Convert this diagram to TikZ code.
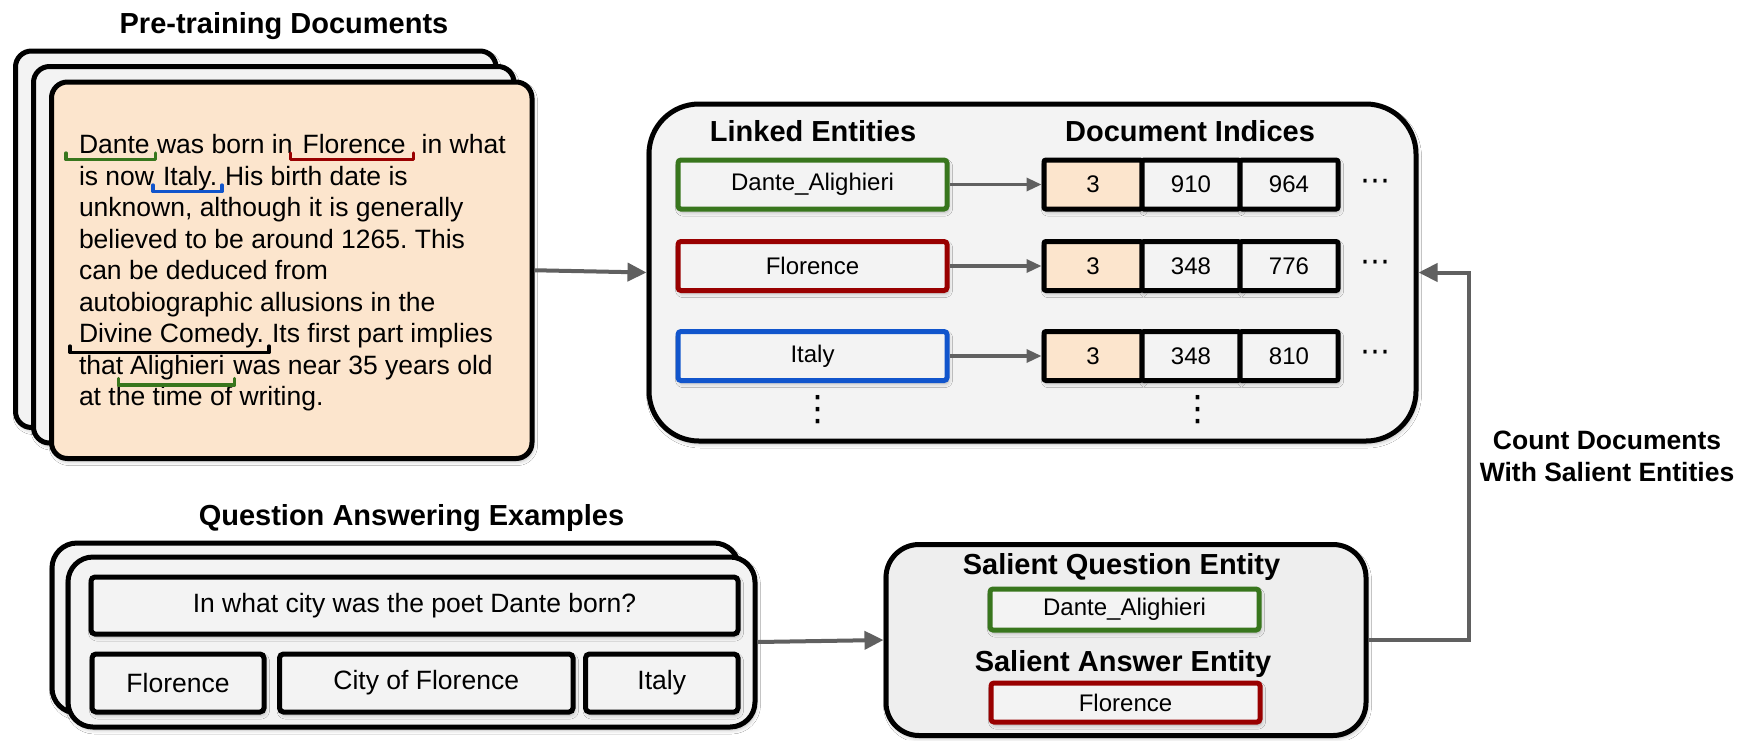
\documentclass[tikz,border=0pt]{standalone}
\usepackage{fontspec}
\setmainfont{Liberation Sans}
\newfontfamily\dotsfont{DejaVu Sans}
\usetikzlibrary{arrows.meta,calc,shadows.blur}
\frenchspacing

\definecolor{egreen}{HTML}{38761D}
\definecolor{ered}{HTML}{990000}
\definecolor{eblue}{HTML}{1155CC}
\definecolor{peach}{HTML}{FCE5CD}
\definecolor{panel}{HTML}{F3F3F3}
\definecolor{panelb}{HTML}{EEEEEE}
\definecolor{linkgray}{HTML}{606060}

\newcommand\docfont{\fontsize{26.5}{31.5}\selectfont}
\newcommand\headfont{\bfseries\fontsize{29}{34}\selectfont}
\newcommand\labfont{\fontsize{24}{28}\selectfont}
\newcommand\notefont{\bfseries\fontsize{26.5}{31.7}\selectfont}
\newcommand\ellfont{\dotsfont\fontsize{30}{32}\selectfont}
\newcommand\vellfont{\dotsfont\fontsize{35}{37}\selectfont}

% underline bracket below a word node: node, colour, left pad, right pad, drop
\newcommand\markword[5]{%
  \draw[brk,#2] ($(#1.base west)+(-#3,#5-6.5)$) -- ($(#1.base west)+(-#3,#5)$)
    -- ($(#1.base east)+(#4,#5)$) -- ($(#1.base east)+(#4,#5-6.5)$);}

\tikzset{
  sh/.style={blur shadow={shadow xshift=1.5pt, shadow yshift=-3pt,
      shadow blur radius=4pt, shadow opacity=28}},
  blackframe/.style={draw=black, line width=5pt, sh},
  docsheet/.style={blackframe, rounded corners=16pt, minimum width=480.5pt,
      minimum height=376.5pt, inner sep=0pt},
  entity/.style={draw=#1, line width=5pt, fill=panel, rounded corners=3pt,
      minimum width=269pt, inner sep=0pt, font=\labfont, sh},
  cell/.style={blackframe, fill=panel, rounded corners=2pt, minimum width=98pt,
      minimum height=49pt, inner sep=0pt, font=\labfont},
  qabox/.style={blackframe, fill=panel, rounded corners=4pt, inner sep=0pt,
      font=\docfont},
  flow/.style={draw=linkgray, line width=3.3pt, -{Triangle[length=15pt,width=13pt]}},
  bigflow/.style={draw=linkgray, line width=4pt, -{Triangle[length=19pt,width=18pt]}},
  word/.style={anchor=base west, inner sep=0pt, outer sep=0pt, font=\docfont},
  head/.style={anchor=base, inner sep=0pt, font=\headfont},
  brk/.style={line width=3.3pt, line join=round, line cap=round},
  ell/.style={inner sep=0pt, font=\ellfont},
  vell/.style={inner sep=0pt, font=\vellfont},
}

\begin{document}
\begin{tikzpicture}[x=1pt,y=-1pt]
\useasboundingbox (0,0) rectangle (1739,740);
\fill[white] (0,0) rectangle (1739,740);

% ---------- pre-training documents ----------
\node[head] (doctitle) at (284,33) {Pre-training Documents};
\node[docsheet, fill=panel] (sheet1) at (255.75,239.25) {};
\node[docsheet, fill=panel] (sheet2) at (273.75,254.75) {};
\node[docsheet, fill=peach] (sheet3) at (291.75,270.25) {};

\node[word] (l1a) at (79,153.5) {Dante};
\node[word] (l1b) at ($(l1a.base east)+(7.4,0)$) {was born in};
\node[word] (l1c) at ($(l1b.base east)+(10,0)$) {Florence};
\node[word] (l1d) at ($(l1c.base east)+(16,0)$) {in what};
\node[word] (l2a) at (79,185) {is now};
\node[word] (l2b) at ($(l2a.base east)+(9,0)$) {Italy.};
\node[word] (l2c) at ($(l2b.base east)+(8,0)$) {His birth date is};
\node[word] (l3) at (79,216.5) {unknown, although it is generally};
\node[word] (l4) at (79,248) {believed to be around 1265. This};
\node[word] (l5) at (79,279.5) {can be deduced from};
\node[word] (l6) at (79,311) {autobiographic allusions in the};
\node[word] (l7a) at (79,342.5) {Divine Comedy.};
\node[word] (l7b) at ($(l7a.base east)+(8,0)$) {Its first part implies};
\node[word] (l8a) at (79,374) {that};
\node[word] (l8b) at ($(l8a.base east)+(7,0)$) {Alighieri};
\node[word] (l8c) at ($(l8b.base east)+(9,0)$) {was near 35 years old};
\node[word] (l9) at (79,405.5) {at the time of writing.};

\markword{l1a}{egreen}{13}{6}{6}
\markword{l1c}{ered}{12}{8}{6}
\markword{l2b}{eblue}{10}{5}{6.5}
\markword{l7a}{black}{9}{5}{10}
\markword{l8b}{egreen}{12}{10}{11}

% ---------- entity index ----------
\node[blackframe, fill=panel, rounded corners=50pt, minimum width=767pt,
      minimum height=337pt] (index) at (1032.5,272.5) {};
\node[head] (enttitle) at (813,141.5) {Linked Entities};
\node[head] (idxtitle) at (1190,141.5) {Document Indices};

\node[entity=egreen, minimum height=49pt] (e1) at (812.5,184.5) {Dante\_Alighieri};
\node[entity=ered,   minimum height=49pt] (e2) at (812.5,266) {Florence};
\node[entity=eblue,  minimum height=49pt] (e3) at (812.5,356) {Italy};

\node[cell, fill=peach] (r1c1) at (1093,184.5) {3};
\node[cell] (r1c2) at (1191,184.5) {910};
\node[cell] (r1c3) at (1289,184.5) {964};
\node[cell, fill=peach] (r2c1) at (1093,266) {3};
\node[cell] (r2c2) at (1191,266) {348};
\node[cell] (r2c3) at (1289,266) {776};
\node[cell, fill=peach] (r3c1) at (1093,356) {3};
\node[cell] (r3c2) at (1191,356) {348};
\node[cell] (r3c3) at (1289,356) {810};

\draw[flow] (e1.east) -- (r1c1.west);
\draw[flow] (e2.east) -- (r2c1.west);
\draw[flow] (e3.east) -- (r3c1.west);

\node[ell] (more1) at (1375,185) {⋯};
\node[ell] (more2) at (1375,266) {⋯};
\node[ell] (more3) at (1375,356) {⋯};
\node[vell] (vmore1) at (818,410) {⋮};
\node[vell] (vmore2) at (1197.5,410) {⋮};

\draw[bigflow] (sheet3.east) -- (index.west);

% ---------- question answering examples ----------
\node[head] (qatitle) at (411.5,525) {Question Answering Examples};
\node[blackframe, fill=panel, rounded corners=25pt, minimum width=687pt,
      minimum height=170pt] (qa1) at (395.5,628) {};
\node[blackframe, fill=panel, rounded corners=25pt, minimum width=687pt,
      minimum height=170pt] (qa2) at (411.5,642) {};
\node[qabox, minimum width=647pt, minimum height=57pt] (question) at (414.5,605.5)
      {In what city was the poet Dante born?};
\node[qabox, minimum width=172pt, minimum height=58pt] (ans1) at (178,683) {Florence};
\node[qabox, minimum width=293.5pt, minimum height=58pt] (ans2) at (426.25,683) {City of Florence};
\node[qabox, minimum width=152.5pt, minimum height=58pt] (ans3) at (661.75,683) {Italy};

% ---------- salient entities ----------
\node[blackframe, fill=panelb, rounded corners=33pt, minimum width=480pt,
      minimum height=191pt] (salient) at (1126,640) {};
\node[head] (qenttitle) at (1121.5,574.3) {Salient Question Entity};
\node[entity=egreen, minimum height=41pt] (qent) at (1124.5,609.5) {Dante\_Alighieri};
\node[head] (aenttitle) at (1123,671.7) {Salient Answer Entity};
\node[entity=ered, minimum height=39pt] (aent) at (1125.5,702.5) {Florence};

\draw[bigflow] (qa2.east) -- (salient.west);

\coordinate (bend) at (1469,272.5);
\draw[bigflow] (salient.east) -| (bend) -- (index.east);
\node[font=\notefont, align=center, inner sep=0pt] (countlabel) at (1607,456.5)
      {Count Documents\\With Salient Entities};
\end{tikzpicture}
\end{document}
